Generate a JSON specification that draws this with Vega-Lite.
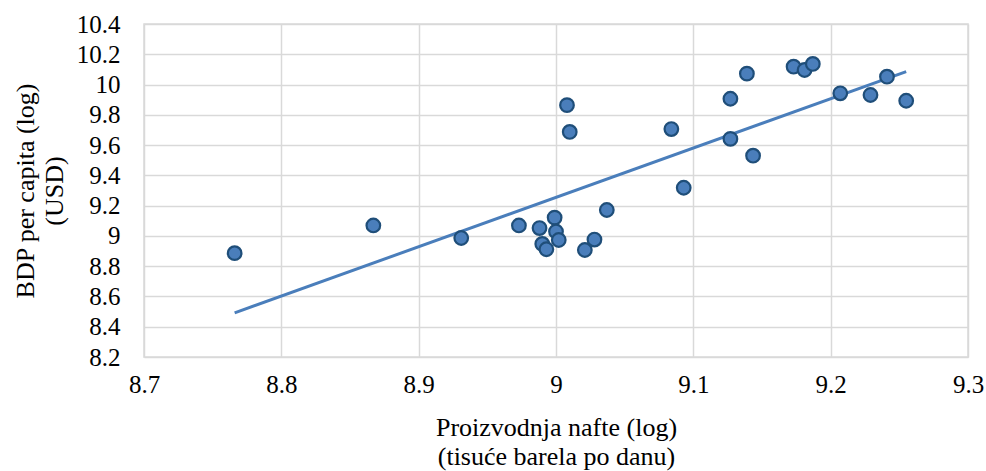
{
  "$schema": "https://vega.github.io/schema/vega-lite/v6.json",
  "width": 824,
  "height": 333,
  "autosize": "none",
  "padding": {"left": 144, "top": 24, "right": 18, "bottom": 114},
  "background": "white",
  "config": {
    "font": "Liberation Serif",
    "view": {"stroke": "#d9d9d9", "strokeWidth": 1.5},
    "axis": {"labelOverlap": false, "labelFlush": false}
  },
  "data": {
    "values": [
      {"x": 8.766, "y": 8.886},
      {"x": 8.867, "y": 9.069},
      {"x": 8.931, "y": 8.986},
      {"x": 8.973, "y": 9.069},
      {"x": 8.988, "y": 9.052},
      {"x": 8.990, "y": 8.947},
      {"x": 8.993, "y": 8.912},
      {"x": 8.999, "y": 9.121},
      {"x": 9.000, "y": 9.029},
      {"x": 9.002, "y": 8.973},
      {"x": 9.008, "y": 9.864},
      {"x": 9.010, "y": 9.687},
      {"x": 9.021, "y": 8.907},
      {"x": 9.028, "y": 8.976},
      {"x": 9.037, "y": 9.171},
      {"x": 9.084, "y": 9.706},
      {"x": 9.093, "y": 9.318},
      {"x": 9.127, "y": 9.906},
      {"x": 9.127, "y": 9.641},
      {"x": 9.139, "y": 10.072},
      {"x": 9.1435, "y": 9.530},
      {"x": 9.173, "y": 10.118},
      {"x": 9.181, "y": 10.096},
      {"x": 9.187, "y": 10.136},
      {"x": 9.207, "y": 9.942},
      {"x": 9.229, "y": 9.931},
      {"x": 9.241, "y": 10.052},
      {"x": 9.255, "y": 9.893}
    ]
  },
  "encoding": {
    "x": {
      "field": "x", "type": "quantitative",
      "scale": {"domain": [8.7, 9.3], "nice": false, "zero": false},
      "axis": {
        "values": [8.7, 8.8, 8.9, 9.0, 9.1, 9.2, 9.3],
        "format": ".1~f",
        "domain": false,
        "ticks": false,
        "gridColor": "#d9d9d9",
        "gridWidth": 1.5,
        "labelFont": "Liberation Serif",
        "labelFontSize": 25,
        "labelColor": "#000000",
        "labelOverlap": false,
        "labelPadding": 15,
        "labelFlush": false,
        "title": ["Proizvodnja nafte (log)", "(tisuće barela po danu)"],
        "titleFont": "Liberation Serif",
        "titleFontSize": 26,
        "titleFontWeight": "normal",
        "titleColor": "#000000",
        "titlePadding": 17,
        "titleLineHeight": 29
      }
    },
    "y": {
      "field": "y", "type": "quantitative",
      "scale": {"domain": [8.2, 10.4], "nice": false, "zero": false},
      "axis": {
        "values": [8.2, 8.4, 8.6, 8.8, 9.0, 9.2, 9.4, 9.6, 9.8, 10.0, 10.2, 10.4],
        "format": ".1~f",
        "domain": false,
        "ticks": false,
        "gridColor": "#d9d9d9",
        "gridWidth": 1.5,
        "labelFont": "Liberation Serif",
        "labelFontSize": 25,
        "labelColor": "#000000",
        "labelOverlap": false,
        "labelFlush": false,
        "labelPadding": 24,
        "title": ["BDP per capita (log)", "(USD)"],
        "titleFont": "Liberation Serif",
        "titleFontSize": 26,
        "titleFontWeight": "normal",
        "titleColor": "#000000",
        "titlePadding": 9,
        "titleLineHeight": 29
      }
    }
  },
  "layer": [
    {
      "transform": [{"regression": "y", "on": "x"}],
      "mark": {"type": "line", "color": "#4a7ebb", "strokeWidth": 3}
    },
    {
      "mark": {"type": "point", "shape": "circle", "filled": true, "fill": "#4a7ebb", "stroke": "#1f4e79", "strokeWidth": 2.2, "size": 185, "opacity": 1}
    }
  ]
}
